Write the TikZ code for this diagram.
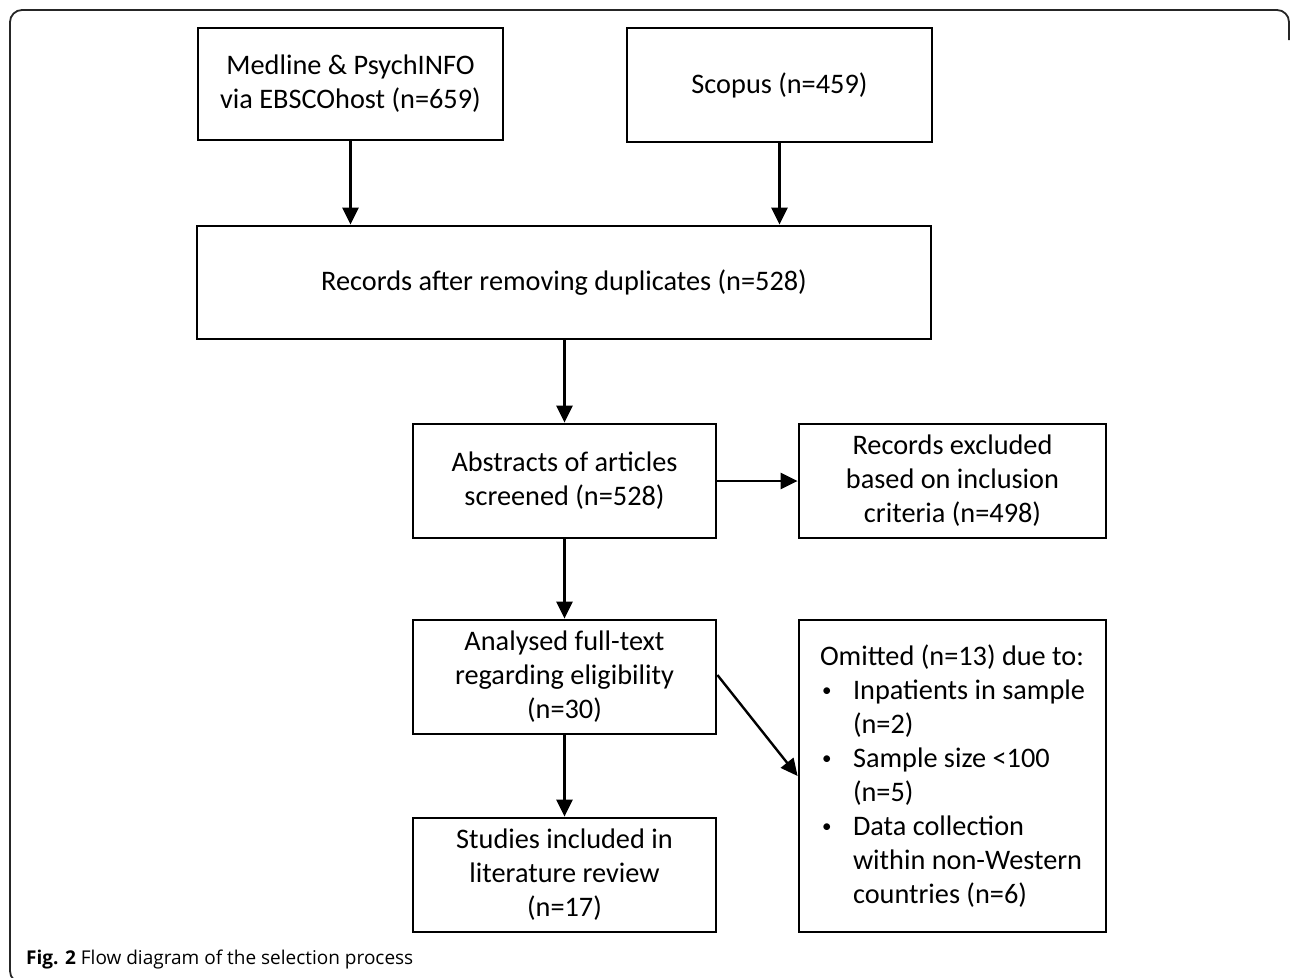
\documentclass[tikz,border=0pt]{standalone}
\usepackage{fontspec}
\setmainfont{Carlito}
\newfontfamily\capfont{Open Sans}
\usetikzlibrary{arrows.meta}
\newcommand{\blt}{\makebox[33pt][l]{\hspace{2pt}\raisebox{3pt}{\fontsize{19}{19}\selectfont\textbullet}}}
\newcommand{\ind}{\hspace*{33pt}}
\begin{document}
\begin{tikzpicture}[x=1pt,y=-1pt,
  box/.style={draw, line width=2.8pt, align=center, inner sep=0pt,
    font=\fontsize{28.3}{34}\selectfont},
  arr/.style={line width=2.4pt, -{Triangle[length=17pt,width=16pt]}},
  frame/.style={line width=1.8pt, draw=black!85}]
\useasboundingbox (0,0) rectangle (1290,977);
\draw[frame, rounded corners=12pt] (30,983) -- (10,983) -- (10,10) -- (1289,10) -- (1289,40);
\node[box, minimum width=305, minimum height=112] (med) at (350.5,84) {Medline \& PsychINFO\\via EBSCOhost (n=659)};
\node[box, minimum width=305, minimum height=114] (sco) at (779.5,85) {Scopus (n=459)};
\node[box, minimum width=734, minimum height=113] (rec) at (564,282.5) {Records after removing duplicates (n=528)};
\node[box, minimum width=303, minimum height=114] (abs) at (564.5,481) {Abstracts of articles\\screened (n=528)};
\node[box, minimum width=307, minimum height=114] (exc) at (952.5,481) {Records excluded\\based on inclusion\\criteria (n=498)};
\node[box, minimum width=303, minimum height=114] (ana) at (564.5,677) {Analysed full-text\\regarding eligibility\\(n=30)};
\node[box, minimum width=303, minimum height=114] (stu) at (564.5,875) {Studies included in\\literature review\\(n=17)};
\node[box, minimum width=307, minimum height=312, align=left] (omi) at (952.5,776) {Omitted (n=13) due to:\\
\blt Inpatients in sample\\ \ind(n=2)\\
\blt Sample size <100\\ \ind(n=5)\\
\blt Data collection\\ \ind within non-Western\\ \ind countries (n=6)};
\draw[arr] (med.south) -- (med.south |- rec.north);
\draw[arr] (sco.south) -- (sco.south |- rec.north);
\draw[arr] (rec.south -| abs.north) -- (abs.north);
\draw[arr] (abs.east) -- (exc.west);
\draw[arr] (abs.south) -- (ana.north);
\draw[arr] (ana.south) -- (stu.north);
\draw[arr] ([yshift=2pt]ana.east) -- (omi.west);
\node[anchor=base west, inner sep=0pt, font=\capfont\fontsize{19}{22}\selectfont] (cap) at (26,964) {\textbf{Fig. 2} Flow diagram of the selection process};
\end{tikzpicture}
\end{document}
